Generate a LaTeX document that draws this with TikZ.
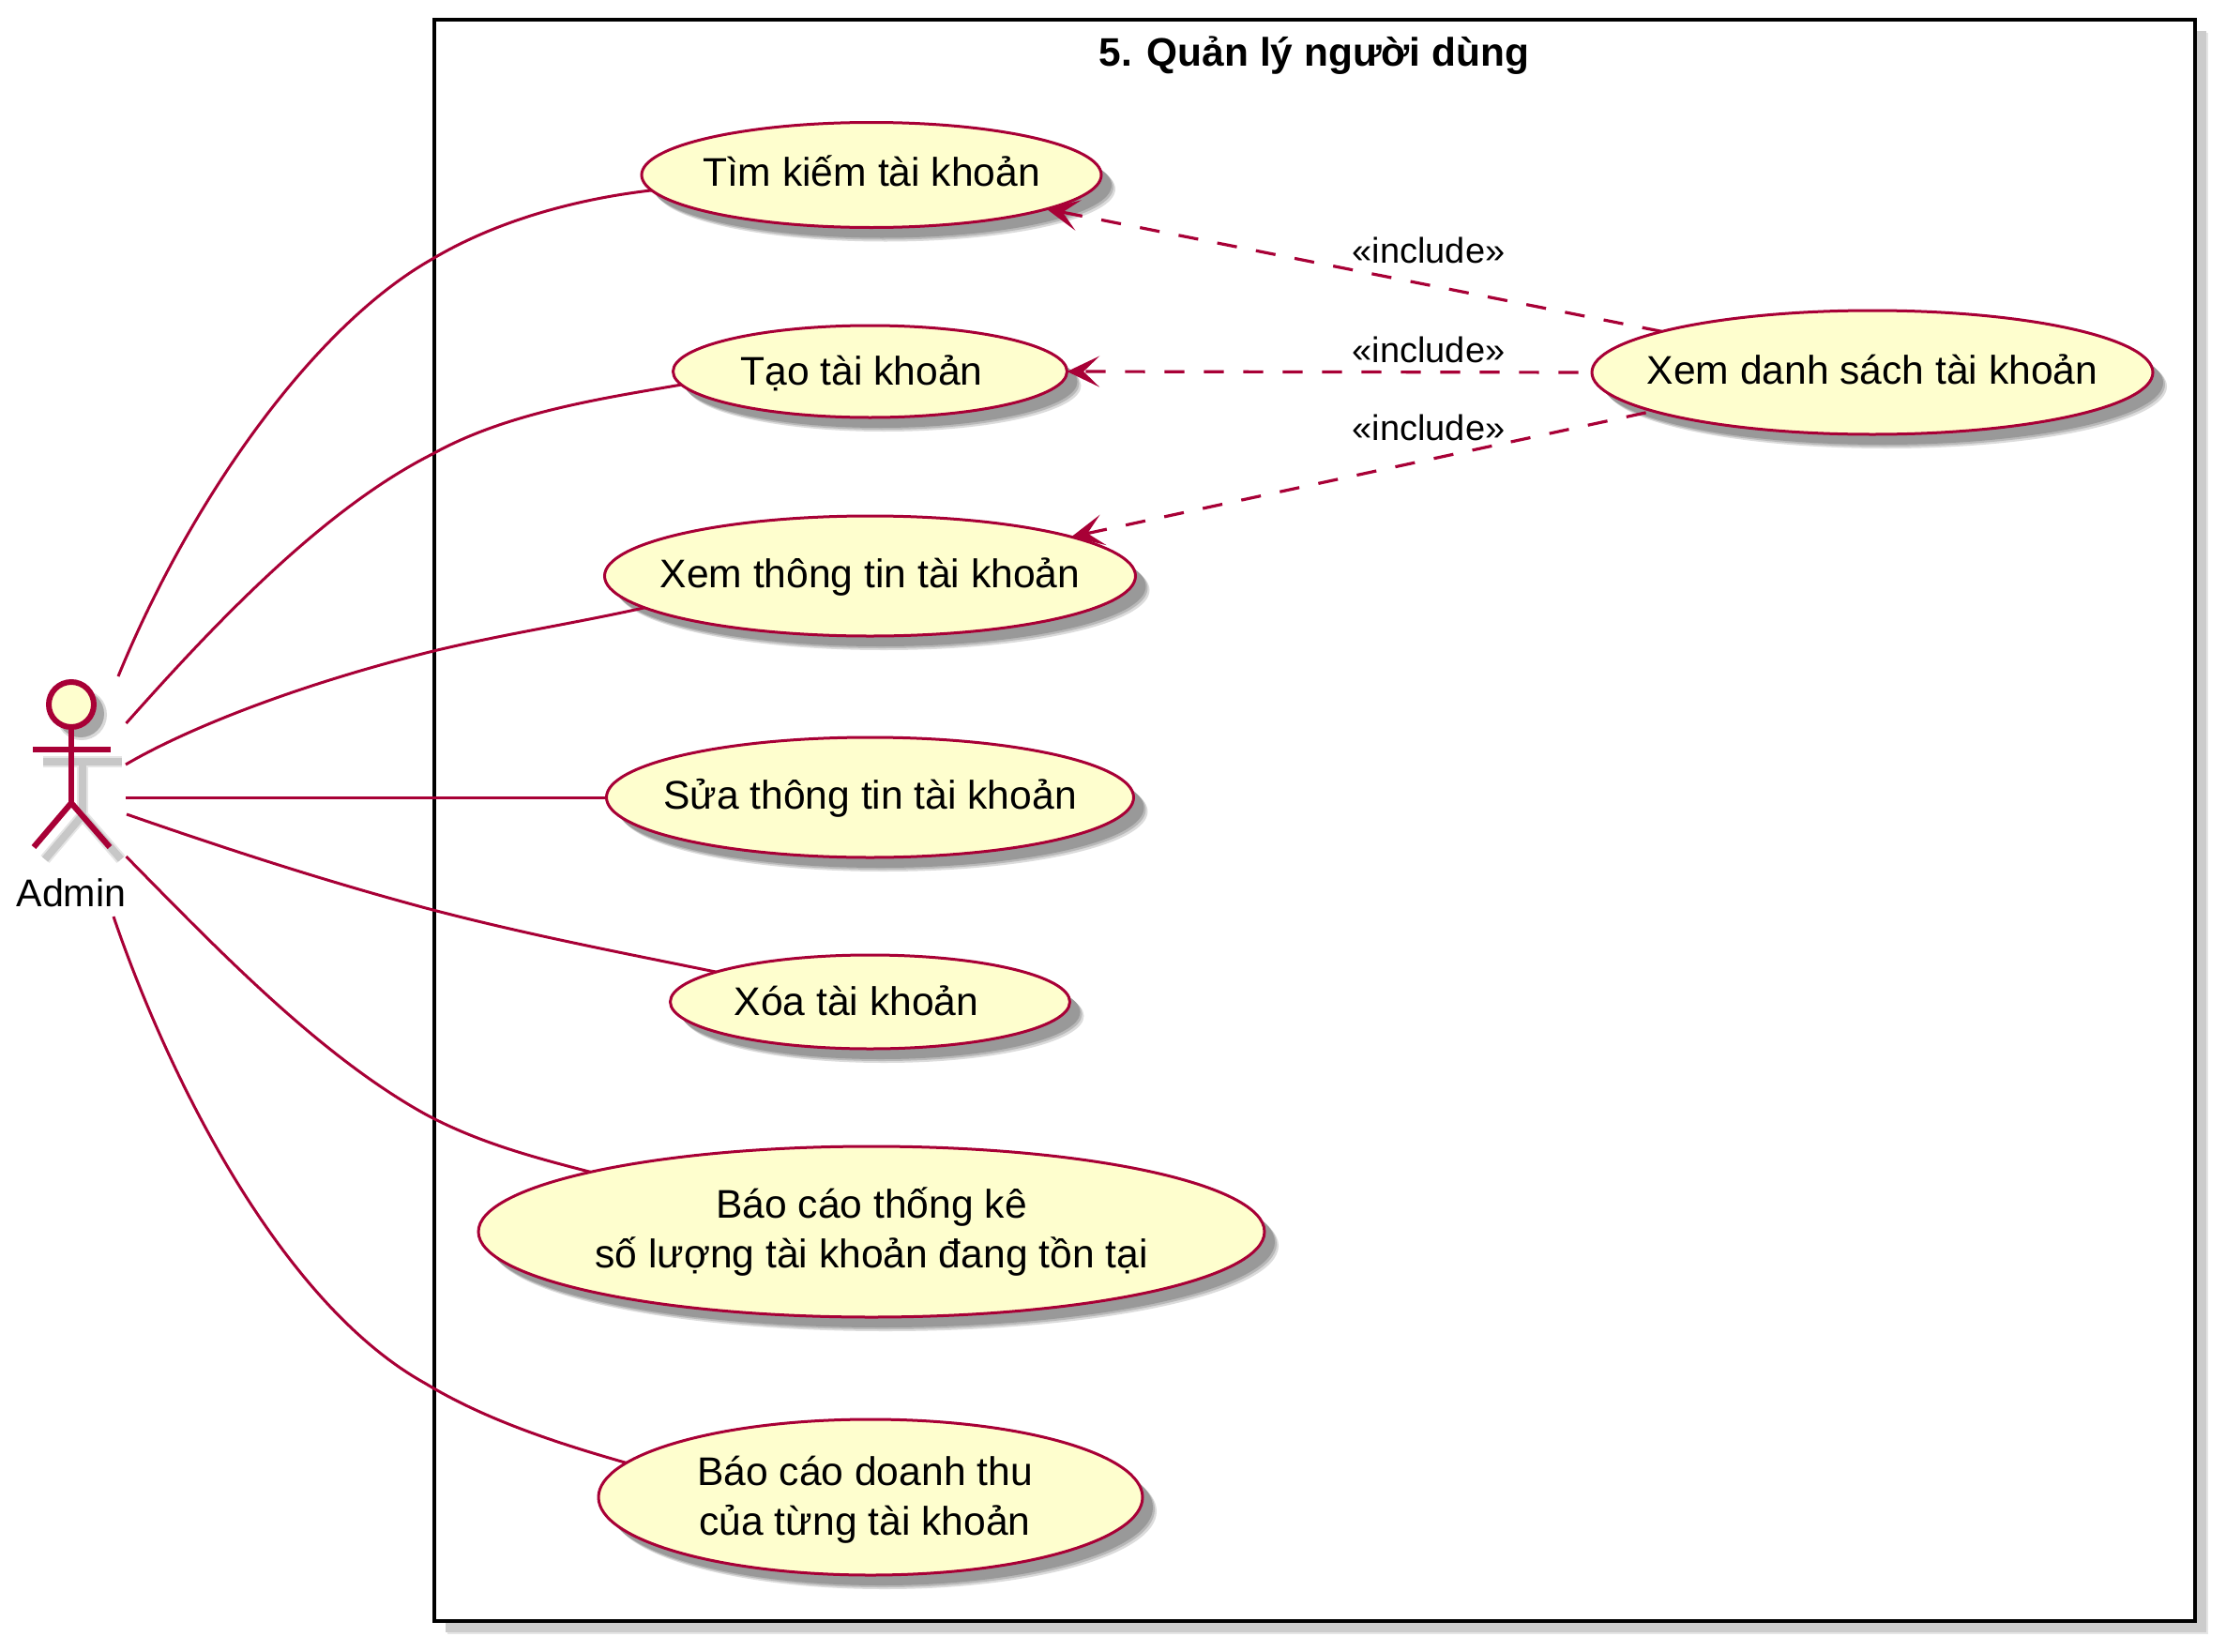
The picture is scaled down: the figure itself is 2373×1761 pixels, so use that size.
\documentclass[tikz,border=0pt]{standalone}
\usepackage{fontspec}
\setmainfont{Liberation Sans}
\usetikzlibrary{arrows.meta,shapes.geometric,shadows}
\definecolor{umlline}{HTML}{A80036}
\definecolor{umlfill}{HTML}{FEFECE}
% text line of a use case: takes no width, so the ellipse keeps its given size
\def\caseline(#1,#2)#3{\makebox[0pt]{\hspace*{#1}\rule[-4pt]{0pt}{20pt}\raisebox{#2}[0pt][0pt]{#3}}}
\tikzset{
    softshadow/.style={
        general shadow={fill=black!14, shadow xshift=7.5pt, shadow yshift=-7.5pt},
        general shadow={fill=black!28, shadow xshift=6.5pt, shadow yshift=-6.5pt},
        general shadow={fill=black!40, shadow xshift=5.5pt, shadow yshift=-5.5pt}},
    usecase/.style={ellipse, draw=umlline, fill=umlfill, line width=1.5pt, inner sep=0pt, outer sep=0pt,
        align=center, softshadow, font=\fontsize{21.3}{26.65}\selectfont},
    sysframe/.style={rectangle, draw=black, fill=white, line width=2pt, inner sep=0pt, outer sep=0pt,
        general shadow={fill=black!10, shadow xshift=7pt, shadow yshift=-7pt},
        general shadow={fill=black!20, shadow xshift=6pt, shadow yshift=-6pt}},
    assoc/.style={draw=umlline, line width=1.5pt},
    includes/.style={draw=umlline, line width=1.6pt, dash pattern=on 10.65pt off 10.35pt,
        -{Stealth[length=17.3pt, width=16.5pt, inset=8.5pt]}},
    edgelabel/.style={anchor=base, inner sep=0pt, font=\fontsize{19}{22}\selectfont},
    actorline/.style={draw=umlline, line width=3.1pt},
    actorshadeA/.style={draw=black!10, line width=6pt},
    actorshadeB/.style={draw=black!22, line width=4pt}
}
\begin{document}
\begin{tikzpicture}[x=0.5pt, y=-0.5pt]
    \useasboundingbox (0,0) rectangle (2373,1761);

    % System frame
    \node[sysframe, minimum width=938.5pt, minimum height=853.5pt] (system) at (1401.5,874.5) {};
    \node[anchor=base, inner sep=0pt, font=\bfseries\fontsize{21.2}{24}\selectfont] (title) at (1401,70.5) {5. Quản lý người dùng};

    % Use cases
    \node[usecase, minimum width=245pt, minimum height=56pt] (search) at (929,186.5) {\caseline(0pt,0pt){Tìm kiếm tài khoản}};
    \node[usecase, minimum width=210pt, minimum height=49pt] (create) at (927.5,396) {\caseline(-9pt,-1pt){Tạo tài khoản}};
    \node[usecase, minimum width=283pt, minimum height=64pt] (view) at (927.5,614) {\caseline(0pt,0pt){Xem thông tin tài khoản}};
    \node[usecase, minimum width=281pt, minimum height=64pt] (edit) at (927.5,850) {\caseline(0pt,0pt){Sửa thông tin tài khoản}};
    \node[usecase, minimum width=213pt, minimum height=50pt] (remove) at (927.5,1068) {\caseline(-14.4pt,-1pt){Xóa tài khoản}};
    \node[usecase, minimum width=419pt, minimum height=91pt] (report) at (929,1313) {\caseline(0pt,0pt){Báo cáo thống kê}\\\caseline(0pt,0pt){số lượng tài khoản đang tồn tại}};
    \node[usecase, minimum width=290pt, minimum height=83pt] (revenue) at (928,1596) {\caseline(-6pt,-1pt){Báo cáo doanh thu}\\\caseline(-6pt,-1pt){của từng tài khoản}};
    \node[usecase, minimum width=299pt, minimum height=66pt] (list) at (1996,397) {\caseline(0pt,0pt){Xem danh sách tài khoản}};

    % Actor shadow
    \draw[actorshadeA] (88,812) -- (88,868);
    \draw[actorshadeA] (46,812) -- (130,812);
    \draw[actorshadeA] (48,916) -- (88,869) -- (129,916);
    \draw[actorshadeB] (88,812) -- (88,868);
    \draw[actorshadeB] (46,812) -- (130,812);
    \draw[actorshadeB] (48,916) -- (88,869) -- (129,916);
    \fill[black!15] (87,762) circle (27);
    \fill[black!35] (86,761) circle (25);

    % Actor
    \node[circle, draw=umlline, fill=umlfill, line width=3pt, inner sep=0pt, outer sep=0pt, minimum size=24pt] (head) at (76,751) {};
    \coordinate (hip) at (76,856);
    \coordinate (armL) at (35,799);
    \coordinate (armR) at (118,799);
    \coordinate (footL) at (36,903);
    \coordinate (footR) at (117,903);
    \draw[actorline] (head.south) -- (hip);
    \draw[actorline] (armL) -- (armR);
    \draw[actorline] (footL) -- (hip) -- (footR);
    \node[anchor=base, inner sep=0pt, font=\fontsize{20.6}{24}\selectfont] (admin) at (76,966.5) {Admin};

    % Free ends near the actor
    \coordinate (a1) at (126,721);
    \coordinate (a2) at (134.5,771);
    \coordinate (a3) at (134,815);
    \coordinate (a4) at (134,850);
    \coordinate (a5) at (135,868);
    \coordinate (a6) at (134.5,913);
    \coordinate (a7) at (121,977);

    % Associations
    \draw[assoc] (a1) .. controls (200,540) and (330,350) .. (461,276) .. controls (530,235) and (615,212) .. (search.184.3);
    \draw[assoc] (a2) .. controls (220,675) and (340,545) .. (461,484) .. controls (540,440) and (640,425) .. (create.184.7);
    \draw[assoc] (a3) .. controls (190,782) and (300,735) .. (454,696) .. controls (530,677) and (610,665) .. (view.188.6);
    \draw[assoc] (a4) -- (edit.west);
    \draw[assoc] (a5) .. controls (250,908) and (350,940) .. (454,968) .. controls (560,996) and (660,1015) .. (remove.169);
    \draw[assoc] (a6) .. controls (230,1010) and (340,1125) .. (454,1188) .. controls (510,1218) and (570,1234) .. (report.168);
    \draw[assoc] (a7) .. controls (180,1150) and (300,1390) .. (454,1475) .. controls (520,1515) and (600,1540) .. (revenue.172);

    % Include lines
    \draw[includes] (list.169.2) -- (search.-11);
    \draw[includes, dash phase=13.85pt] (list.west) -- (create.east);
    \draw[includes, dash phase=17pt] (list.190) -- (view.11.2);
    \node[edgelabel] (inc1) at (1523,280.5) {«include»};
    \node[edgelabel] (inc2) at (1523,386) {«include»};
    \node[edgelabel] (inc3) at (1523,469.5) {«include»};
\end{tikzpicture}
\end{document}
